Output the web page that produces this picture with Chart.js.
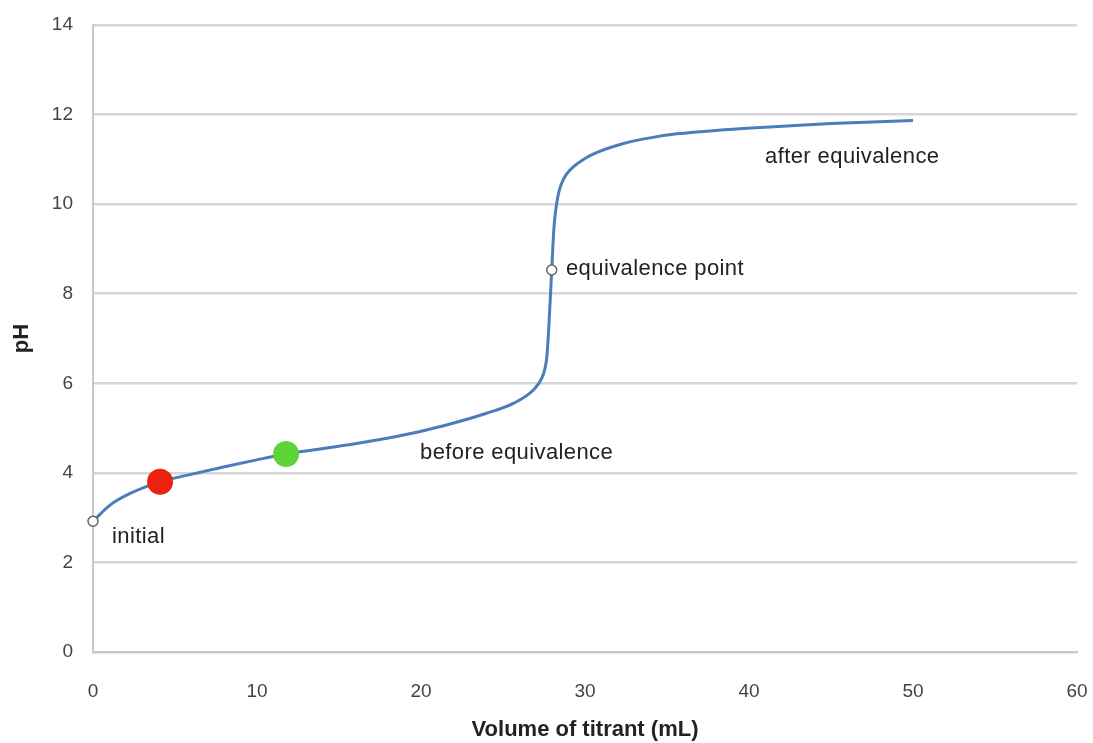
<!DOCTYPE html>
<html lang="en">
<head>
    <meta charset="UTF-8">
    <script src="https://cdn.jsdelivr.net/npm/chart.js@4.4.1/dist/chart.umd.min.js"></script>
    <title>Titration curve</title>
    <style>
        html, body{margin:0; padding:0; background:#fff;}
        #wrap{width:1093px; height:743px;}
    </style>
</head>
<body>
    <div id="wrap">
        <canvas id="myChart" width="1093" height="743"></canvas>
    </div>
    <script>
        // titration curve
        const volume = [0, 1.04, 2.26, 4.09, 5.91, 7.95, 9.98, 11.77, 15.46, 18.5, 21.56, 24.0, 25.63, 26.85, 27.36, 27.56, 27.68, 27.8, 27.97, 28.11, 28.27, 28.4, 28.57, 28.85, 29.28, 30.0, 30.7, 32.3, 33.96, 35.6, 38.5, 41.5, 45, 50]
        const pH     = [2.92, 3.28, 3.54, 3.80, 3.96, 4.13, 4.29, 4.42, 4.62, 4.81, 5.07, 5.33, 5.55, 5.85, 6.11, 6.33, 6.62, 7.3, 8.53, 9.49, 10.01, 10.26, 10.46, 10.66, 10.83, 11.02, 11.15, 11.35, 11.48, 11.57, 11.66, 11.73, 11.8, 11.87]

        // open markers (initial, equivalence point)
        const openX = [0, 27.97]
        const openY = [2.92, 8.53]

        // coloured dots
        const dotX = [4.09, 11.77]
        const dotY = [3.80, 4.42]
        const dotColors = ['#ec2210', '#5fd43a']

        // text labels on the plot
        const noteText = ['initial', 'equivalence point', 'before equivalence', 'after equivalence']
        const noteX = [1.16, 28.84, 19.94, 40.98]
        const noteY = [2.57, 8.55, 4.44, 11.05]

        const xTicks = [0, 10, 20, 30, 40, 50, 60]
        const yTicks = [0, 2, 4, 6, 8, 10, 12, 14]

        const toPts = (xs, ys) => xs.map((x, i) => ({x: x, y: ys[i]}))

        const notesPlugin = {
            id: 'notes',
            afterDatasetsDraw(chart){
                const c = chart.ctx
                const xs = chart.scales.x, ys = chart.scales.y
                c.save()
                c.font = '22px "Liberation Sans", Arial, sans-serif'
                c.letterSpacing = '0.4px'
                c.fillStyle = '#222'
                c.textAlign = 'left'
                c.textBaseline = 'middle'
                noteText.forEach((t, i) => {
                    c.fillText(t, xs.getPixelForValue(noteX[i]), ys.getPixelForValue(noteY[i]))
                })
                c.restore()
            }
        }

        const tickFont = {family: '"Liberation Sans", Arial, sans-serif', size: 19}
        const titleFont = {family: '"Liberation Sans", Arial, sans-serif', size: 22, weight: 'bold'}

        const ctx = document.getElementById('myChart').getContext('2d')
        const myChart = new Chart(ctx, {
            type: 'scatter',
            data: {
                datasets: [{
                    label: 'dots',
                    data: toPts(dotX, dotY),
                    backgroundColor: dotColors,
                    borderWidth: 0,
                    pointRadius: 13,
                    order: 0
                }, {
                    label: 'open',
                    data: toPts(openX, openY),
                    backgroundColor: '#ffffff',
                    borderColor: '#666666',
                    borderWidth: 1.5,
                    pointRadius: 5,
                    clip: false,
                    order: 1
                }, {
                    label: 'pH',
                    data: toPts(volume, pH),
                    showLine: true,
                    borderColor: '#4a7ebb',
                    borderWidth: 3,
                    pointRadius: 0,
                    cubicInterpolationMode: 'monotone',
                    order: 2
                }]
            },
            options: {
                responsive: false,
                animation: false,
                layout: {padding: {top: 25, right: 16, left: 0, bottom: 0}},
                plugins: {
                    legend: {display: false},
                    tooltip: {enabled: false}
                },
                scales: {
                    x: {
                        type: 'linear',
                        min: 0, max: 60,
                        afterBuildTicks: s => { s.ticks = xTicks.map(v => ({value: v})) },
                        afterFit: s => { s.height = 91; s.paddingLeft = 0; s.paddingRight = 0 },
                        grid: {display: false},
                        border: {display: true, color: '#c8c8c8', width: 2},
                        ticks: {color: '#444', font: tickFont, padding: 20, maxRotation: 0},
                        title: {display: true, text: 'Volume of titrant (mL)', color: '#222', font: titleFont, padding: {top: 4, bottom: 0}}
                    },
                    y: {
                        min: 0, max: 14,
                        afterBuildTicks: s => { s.ticks = yTicks.map(v => ({value: v})) },
                        afterFit: s => { s.width = 93; s.paddingTop = 0; s.paddingBottom = 0 },
                        grid: {color: '#d6d6d6', lineWidth: 2.5, drawTicks: false},
                        border: {display: true, color: '#c8c8c8', width: 2},
                        ticks: {color: '#444', font: tickFont, padding: 20},
                        title: {display: true, text: 'pH', color: '#222', font: titleFont, padding: {top: 9, bottom: 0}}
                    }
                }
            },
            plugins: [notesPlugin]
        })
    </script>
</body>
</html>
